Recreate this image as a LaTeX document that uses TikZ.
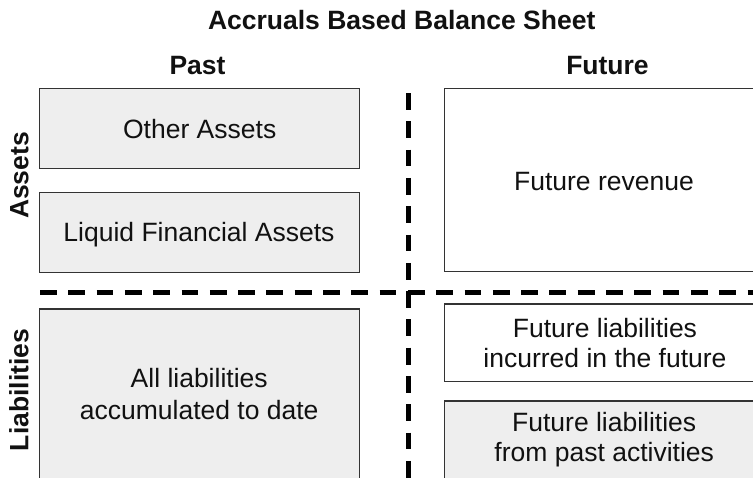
\documentclass[tikz,border=0pt]{standalone}
\usepackage{fontspec}
\setmainfont{Liberation Sans}
\definecolor{boxgray}{HTML}{EEEEEE}
\definecolor{edge}{HTML}{333333}
\definecolor{ink}{HTML}{111111}
\begin{document}
\begin{tikzpicture}[x=1pt,y=-1pt,
  panel/.style={draw=edge,line width=1.3pt,rectangle,anchor=north west,inner sep=0pt,outer sep=0pt},
  grayp/.style={panel,fill=boxgray},
  whitep/.style={panel,fill=white},
  lbl/.style={text=ink,inner sep=0pt,anchor=base,align=center,font=\fontsize{26.5}{30.5}\selectfont},
  hdr/.style={lbl,font=\fontsize{26.5}{30.5}\selectfont\bfseries},
  divider/.style={line width=4.5pt,line cap=butt,dash pattern=on 16.8pt off 11.5pt}]
\useasboundingbox (0,0) rectangle (753,477);
\clip (0,0) rectangle (753,477);
% panels
\node[grayp,minimum width=320pt,minimum height=79.6pt] (other) at (39.5,88.7) {};
\node[grayp,minimum width=320pt,minimum height=80pt] (liquid) at (39.5,192.3) {};
\node[grayp,minimum width=320pt,minimum height=190pt] (allliab) at (39.5,309) {};
\node[whitep,minimum width=330pt,minimum height=183pt] (revenue) at (444.3,88.7) {};
\node[whitep,minimum width=330pt,minimum height=77.7pt] (incurred) at (444.3,304) {};
\node[grayp,minimum width=330pt,minimum height=100pt] (pastact) at (444.3,401) {};
% dividers
\coordinate (vtop) at (408.3,93);
\coordinate (vbot) at (408.3,495);
\coordinate (hleft) at (40,292.7);
\coordinate (hright) at (775,292.7);
\draw[divider] (vtop) -- (vbot);
\draw[divider] (hleft) -- (hright);
% headers
\node[hdr] (title) at (401.7,29.5) {Accruals Based Balance Sheet};
\node[hdr] (past) at (197.5,74) {Past};
\node[hdr] (future) at (607.5,74) {Future};
\node[hdr,rotate=90,anchor=base] (assets) at (28.3,175.5) {Assets};
\node[hdr,rotate=90,anchor=base] (liab) at (28.3,390) {Liabilities};
% labels
\node[lbl] (tother) at (199.7,138.3) {Other Assets};
\node[lbl] (tliquid) at (199,241) {Liquid Financial Assets};
\node[lbl] (trevenue) at (604,190) {Future revenue};
\node[lbl] (tincurred) at (605,367.7) {Future liabilities\\incurred in the future};
\node[lbl] (tpastact) at (604.2,461.7) {Future liabilities\\from past activities};
\node[lbl,font=\fontsize{26.5}{32}\selectfont] (tall) at (199.2,419.3) {All liabilities\\accumulated to date};
\end{tikzpicture}
\end{document}
